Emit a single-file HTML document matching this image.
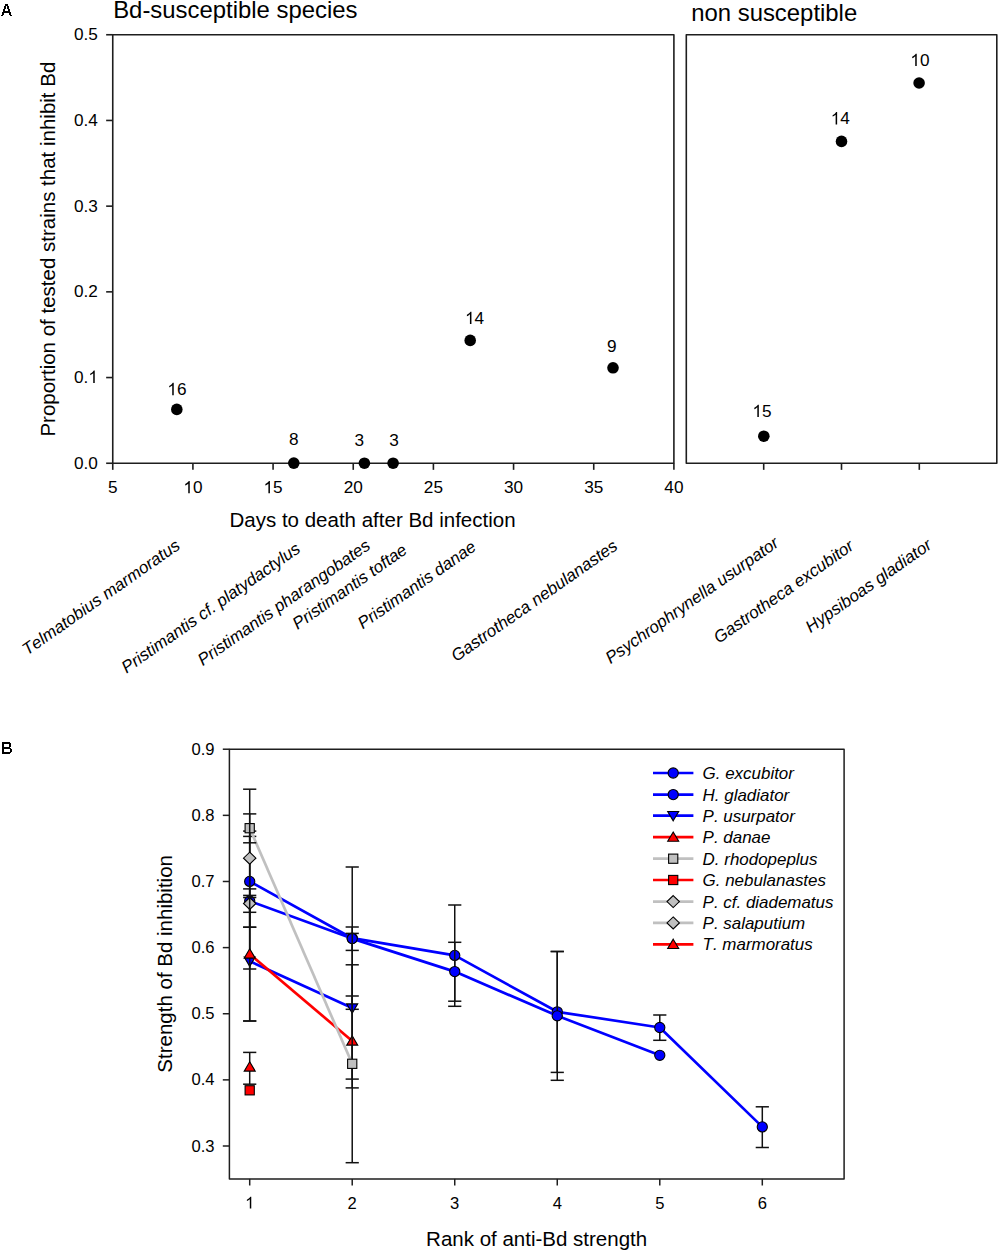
<!DOCTYPE html>
<html><head><meta charset="utf-8"><style>
html,body{margin:0;padding:0;background:#fff;}
svg{display:block;}
text{font-family:"Liberation Sans", sans-serif;fill:#000;font-kerning:none;}
.tk{font-size:17.2px;}
.tk2{font-size:16.6px;}
.ttl{font-size:23.9px;}
.lab{font-size:20.5px;}
.sp{font-size:17px;font-style:italic;}
.lg{font-size:16.95px;font-style:italic;}
.pl{font-size:16px;font-weight:bold;}
</style></head><body>
<svg width="1000" height="1253" viewBox="0 0 1000 1253">
<rect width="1000" height="1253" fill="#fff"/>
<rect x="112.75" y="34.75" width="561.15" height="428.5" fill="none" stroke="#1e1e1e" stroke-width="1.6" stroke-linejoin="round"/>
<line x1="106.15" y1="463.25" x2="112.75" y2="463.25" stroke="#1e1e1e" stroke-width="1.6"/>
<text x="73.99 83.56 88.33" y="468.65" style="font-size:17.2px">0.0</text>
<line x1="106.15" y1="377.55" x2="112.75" y2="377.55" stroke="#1e1e1e" stroke-width="1.6"/>
<text x="73.99 83.56" y="382.95" style="font-size:17.2px">0.</text><path d="M763 0H583V1147Q518 1085 412.5 1023Q307 961 223 930V1104Q374 1175 487 1276Q600 1377 647 1472H763Z" transform="translate(88.33,382.95) scale(0.00840,-0.00840)" fill="#000"/>
<line x1="106.15" y1="291.85" x2="112.75" y2="291.85" stroke="#1e1e1e" stroke-width="1.6"/>
<text x="73.99 83.56 88.33" y="297.25" style="font-size:17.2px">0.2</text>
<line x1="106.15" y1="206.14999999999998" x2="112.75" y2="206.14999999999998" stroke="#1e1e1e" stroke-width="1.6"/>
<text x="73.99 83.56 88.33" y="211.55" style="font-size:17.2px">0.3</text>
<line x1="106.15" y1="120.44999999999999" x2="112.75" y2="120.44999999999999" stroke="#1e1e1e" stroke-width="1.6"/>
<text x="73.99 83.56 88.33" y="125.85" style="font-size:17.2px">0.4</text>
<line x1="106.15" y1="34.75" x2="112.75" y2="34.75" stroke="#1e1e1e" stroke-width="1.6"/>
<text x="73.99 83.56 88.33" y="40.15" style="font-size:17.2px">0.5</text>
<line x1="112.75" y1="463.25" x2="112.75" y2="469.85" stroke="#1e1e1e" stroke-width="1.6"/>
<text x="107.97" y="493.30" style="font-size:17.2px">5</text>
<line x1="192.9142857142857" y1="463.25" x2="192.9142857142857" y2="469.85" stroke="#1e1e1e" stroke-width="1.6"/>
<text x="192.91" y="493.30" style="font-size:17.2px">0</text><path d="M763 0H583V1147Q518 1085 412.5 1023Q307 961 223 930V1104Q374 1175 487 1276Q600 1377 647 1472H763Z" transform="translate(183.35,493.30) scale(0.00840,-0.00840)" fill="#000"/>
<line x1="273.0785714285714" y1="463.25" x2="273.0785714285714" y2="469.85" stroke="#1e1e1e" stroke-width="1.6"/>
<text x="273.08" y="493.30" style="font-size:17.2px">5</text><path d="M763 0H583V1147Q518 1085 412.5 1023Q307 961 223 930V1104Q374 1175 487 1276Q600 1377 647 1472H763Z" transform="translate(263.51,493.30) scale(0.00840,-0.00840)" fill="#000"/>
<line x1="353.24285714285713" y1="463.25" x2="353.24285714285713" y2="469.85" stroke="#1e1e1e" stroke-width="1.6"/>
<text x="343.68 353.24" y="493.30" style="font-size:17.2px">20</text>
<line x1="433.40714285714284" y1="463.25" x2="433.40714285714284" y2="469.85" stroke="#1e1e1e" stroke-width="1.6"/>
<text x="423.84 433.41" y="493.30" style="font-size:17.2px">25</text>
<line x1="513.5714285714286" y1="463.25" x2="513.5714285714286" y2="469.85" stroke="#1e1e1e" stroke-width="1.6"/>
<text x="504.01 513.57" y="493.30" style="font-size:17.2px">30</text>
<line x1="593.7357142857143" y1="463.25" x2="593.7357142857143" y2="469.85" stroke="#1e1e1e" stroke-width="1.6"/>
<text x="584.17 593.74" y="493.30" style="font-size:17.2px">35</text>
<line x1="673.9" y1="463.25" x2="673.9" y2="469.85" stroke="#1e1e1e" stroke-width="1.6"/>
<text x="664.33 673.90" y="493.30" style="font-size:17.2px">40</text>
<rect x="686.3" y="34.75" width="310.5" height="428.5" fill="none" stroke="#1e1e1e" stroke-width="1.6" stroke-linejoin="round"/>
<line x1="763.7" y1="463.25" x2="763.7" y2="469.85" stroke="#1e1e1e" stroke-width="1.6"/>
<line x1="841.5" y1="463.25" x2="841.5" y2="469.85" stroke="#1e1e1e" stroke-width="1.6"/>
<line x1="919.3" y1="463.25" x2="919.3" y2="469.85" stroke="#1e1e1e" stroke-width="1.6"/>
<circle cx="176.8" cy="409.4" r="5.8" fill="#000"/>
<text x="176.90" y="395.20" style="font-size:17.2px">6</text><path d="M763 0H583V1147Q518 1085 412.5 1023Q307 961 223 930V1104Q374 1175 487 1276Q600 1377 647 1472H763Z" transform="translate(167.33,395.20) scale(0.00840,-0.00840)" fill="#000"/>
<circle cx="293.8" cy="463.1" r="5.8" fill="#000"/>
<text x="289.12" y="444.80" style="font-size:17.2px">8</text>
<circle cx="364.4" cy="463.2" r="5.8" fill="#000"/>
<text x="354.42" y="445.90" style="font-size:17.2px">3</text>
<circle cx="393.1" cy="463.2" r="5.8" fill="#000"/>
<text x="389.32" y="445.90" style="font-size:17.2px">3</text>
<circle cx="470.2" cy="340.4" r="5.8" fill="#000"/>
<text x="474.60" y="324.00" style="font-size:17.2px">4</text><path d="M763 0H583V1147Q518 1085 412.5 1023Q307 961 223 930V1104Q374 1175 487 1276Q600 1377 647 1472H763Z" transform="translate(465.03,324.00) scale(0.00840,-0.00840)" fill="#000"/>
<circle cx="613.0" cy="367.8" r="5.8" fill="#000"/>
<text x="607.12" y="351.80" style="font-size:17.2px">9</text>
<circle cx="763.8" cy="436.2" r="5.8" fill="#000"/>
<text x="762.00" y="417.00" style="font-size:17.2px">5</text><path d="M763 0H583V1147Q518 1085 412.5 1023Q307 961 223 930V1104Q374 1175 487 1276Q600 1377 647 1472H763Z" transform="translate(752.43,417.00) scale(0.00840,-0.00840)" fill="#000"/>
<circle cx="841.5" cy="141.4" r="5.8" fill="#000"/>
<text x="840.30" y="124.40" style="font-size:17.2px">4</text><path d="M763 0H583V1147Q518 1085 412.5 1023Q307 961 223 930V1104Q374 1175 487 1276Q600 1377 647 1472H763Z" transform="translate(830.73,124.40) scale(0.00840,-0.00840)" fill="#000"/>
<circle cx="919.1" cy="83.0" r="5.8" fill="#000"/>
<text x="919.90" y="66.00" style="font-size:17.2px">0</text><path d="M763 0H583V1147Q518 1085 412.5 1023Q307 961 223 930V1104Q374 1175 487 1276Q600 1377 647 1472H763Z" transform="translate(910.33,66.00) scale(0.00840,-0.00840)" fill="#000"/>
<text x="113.2" y="18.4" class="ttl">Bd-susceptible species</text>
<text x="691.2" y="21.0" class="ttl">non susceptible</text>
<text x="0" y="0" class="lab" transform="translate(55.3,436.6) rotate(-90)">Proportion of tested strains that inhibit Bd</text>
<text x="229.5" y="526.7" class="lab">Days to death after Bd infection</text>
<text x="0" y="0" text-anchor="end" class="sp" transform="translate(181.2,548) rotate(-35)">Telmatobius marmoratus</text>
<text x="0" y="0" text-anchor="end" class="sp" transform="translate(301.5,551.3) rotate(-35)">Pristimantis cf. platydactylus</text>
<text x="0" y="0" text-anchor="end" class="sp" transform="translate(371.5,548) rotate(-35)">Pristimantis pharangobates</text>
<text x="0" y="0" text-anchor="end" class="sp" transform="translate(408.3,552.5) rotate(-35)">Pristimantis toftae</text>
<text x="0" y="0" text-anchor="end" class="sp" transform="translate(477.2,549.4) rotate(-35)">Pristimantis danae</text>
<text x="0" y="0" text-anchor="end" class="sp" transform="translate(618.8,548.5) rotate(-35)">Gastrotheca nebulanastes</text>
<text x="0" y="0" text-anchor="end" class="sp" transform="translate(780,545.5) rotate(-35)">Psychrophrynella usurpator</text>
<text x="0" y="0" text-anchor="end" class="sp" transform="translate(855,548.5) rotate(-35)">Gastrotheca excubitor</text>
<text x="0" y="0" text-anchor="end" class="sp" transform="translate(932.8,547.5) rotate(-35)">Hypsiboas gladiator</text>
<path d="M5 4h3v1h-3zM5 5h3v1h-3zM4 6h2v1h-2zM7 6h2v1h-2zM4 7h2v1h-2zM7 7h2v1h-2zM4 8h2v1h-2zM7 8h2v1h-2zM3 9h2v1h-2zM8 9h2v1h-2zM3 10h2v1h-2zM8 10h2v1h-2zM3 11h7v1h-7zM2 12h9v1h-9zM2 13h2v1h-2zM9 13h2v1h-2zM2 14h2v1h-2zM9 14h2v1h-2zM1 15h2v1h-2zM10 15h2v1h-2z" fill="#000" shape-rendering="crispEdges"/>
<path d="M2 742h8v1h-8zM2 743h9v1h-9zM2 744h2v1h-2zM9 744h2v1h-2zM2 745h2v1h-2zM9 745h2v1h-2zM2 746h2v1h-2zM9 746h2v1h-2zM2 747h8v1h-8zM2 748h9v1h-9zM2 749h2v1h-2zM10 749h2v1h-2zM2 750h2v1h-2zM10 750h2v1h-2zM2 751h2v1h-2zM10 751h2v1h-2zM2 752h9v1h-9zM2 753h8v1h-8z" fill="#000" shape-rendering="crispEdges"/>
<rect x="229.4" y="749.2" width="614.7" height="429.70000000000005" fill="none" stroke="#1e1e1e" stroke-width="1.5" stroke-linejoin="round"/>
<line x1="222.8" y1="1146.0" x2="229.4" y2="1146.0" stroke="#1e1e1e" stroke-width="1.5"/>
<text x="191.42 200.66 205.27" y="1151.60" style="font-size:16.6px">0.3</text>
<line x1="222.8" y1="1079.87" x2="229.4" y2="1079.87" stroke="#1e1e1e" stroke-width="1.5"/>
<text x="191.42 200.66 205.27" y="1085.47" style="font-size:16.6px">0.4</text>
<line x1="222.8" y1="1013.74" x2="229.4" y2="1013.74" stroke="#1e1e1e" stroke-width="1.5"/>
<text x="191.42 200.66 205.27" y="1019.34" style="font-size:16.6px">0.5</text>
<line x1="222.8" y1="947.6099999999999" x2="229.4" y2="947.6099999999999" stroke="#1e1e1e" stroke-width="1.5"/>
<text x="191.42 200.66 205.27" y="953.21" style="font-size:16.6px">0.6</text>
<line x1="222.8" y1="881.48" x2="229.4" y2="881.48" stroke="#1e1e1e" stroke-width="1.5"/>
<text x="191.42 200.66 205.27" y="887.08" style="font-size:16.6px">0.7</text>
<line x1="222.8" y1="815.35" x2="229.4" y2="815.35" stroke="#1e1e1e" stroke-width="1.5"/>
<text x="191.42 200.66 205.27" y="820.95" style="font-size:16.6px">0.8</text>
<line x1="222.8" y1="749.22" x2="229.4" y2="749.22" stroke="#1e1e1e" stroke-width="1.5"/>
<text x="191.42 200.66 205.27" y="754.82" style="font-size:16.6px">0.9</text>
<line x1="249.7" y1="1178.9" x2="249.7" y2="1185.5" stroke="#1e1e1e" stroke-width="1.5"/>
<path d="M763 0H583V1147Q518 1085 412.5 1023Q307 961 223 930V1104Q374 1175 487 1276Q600 1377 647 1472H763Z" transform="translate(245.08,1208.60) scale(0.00811,-0.00811)" fill="#000"/>
<line x1="352.21999999999997" y1="1178.9" x2="352.21999999999997" y2="1185.5" stroke="#1e1e1e" stroke-width="1.5"/>
<text x="347.60" y="1208.60" style="font-size:16.6px">2</text>
<line x1="454.74" y1="1178.9" x2="454.74" y2="1185.5" stroke="#1e1e1e" stroke-width="1.5"/>
<text x="450.12" y="1208.60" style="font-size:16.6px">3</text>
<line x1="557.26" y1="1178.9" x2="557.26" y2="1185.5" stroke="#1e1e1e" stroke-width="1.5"/>
<text x="552.64" y="1208.60" style="font-size:16.6px">4</text>
<line x1="659.78" y1="1178.9" x2="659.78" y2="1185.5" stroke="#1e1e1e" stroke-width="1.5"/>
<text x="655.16" y="1208.60" style="font-size:16.6px">5</text>
<line x1="762.3" y1="1178.9" x2="762.3" y2="1185.5" stroke="#1e1e1e" stroke-width="1.5"/>
<text x="757.68" y="1208.60" style="font-size:16.6px">6</text>
<text x="0" y="0" class="lab" transform="translate(172,1072.7) rotate(-90)">Strength of Bd inhibition</text>
<text x="426.1" y="1246" class="lab">Rank of anti-Bd strength</text>
<polyline points="249.70,881.40 352.22,938.20 454.74,955.40 557.26,1011.80 659.78,1027.50 762.30,1126.90" fill="none" stroke="#0000ff" stroke-width="2.7" stroke-linejoin="round"/>
<g stroke="#111" stroke-width="1.5"><line x1="249.70" y1="836.4" x2="249.70" y2="927.2"/><line x1="243.10" y1="836.4" x2="256.30" y2="836.4"/><line x1="243.10" y1="927.2" x2="256.30" y2="927.2"/><line x1="352.22" y1="867.0" x2="352.22" y2="1009.3"/><line x1="345.62" y1="867.0" x2="358.82" y2="867.0"/><line x1="345.62" y1="1009.3" x2="358.82" y2="1009.3"/><line x1="454.74" y1="905.0" x2="454.74" y2="1006.3"/><line x1="448.14" y1="905.0" x2="461.34" y2="905.0"/><line x1="448.14" y1="1006.3" x2="461.34" y2="1006.3"/><line x1="557.26" y1="951.5" x2="557.26" y2="1072.4"/><line x1="550.66" y1="951.5" x2="563.86" y2="951.5"/><line x1="550.66" y1="1072.4" x2="563.86" y2="1072.4"/><line x1="659.78" y1="1015.0" x2="659.78" y2="1040.3"/><line x1="653.18" y1="1015.0" x2="666.38" y2="1015.0"/><line x1="653.18" y1="1040.3" x2="666.38" y2="1040.3"/><line x1="762.30" y1="1106.8" x2="762.30" y2="1147.5"/><line x1="755.70" y1="1106.8" x2="768.90" y2="1106.8"/><line x1="755.70" y1="1147.5" x2="768.90" y2="1147.5"/></g>
<circle cx="249.70" cy="881.40" r="5.1" fill="#0000ff" stroke="#000" stroke-width="1.1"/>
<circle cx="352.22" cy="938.20" r="5.1" fill="#0000ff" stroke="#000" stroke-width="1.1"/>
<circle cx="454.74" cy="955.40" r="5.1" fill="#0000ff" stroke="#000" stroke-width="1.1"/>
<circle cx="557.26" cy="1011.80" r="5.1" fill="#0000ff" stroke="#000" stroke-width="1.1"/>
<circle cx="659.78" cy="1027.50" r="5.1" fill="#0000ff" stroke="#000" stroke-width="1.1"/>
<circle cx="762.30" cy="1126.90" r="5.1" fill="#0000ff" stroke="#000" stroke-width="1.1"/>
<polyline points="249.70,901.00 352.22,938.60 454.74,971.60 557.26,1015.80 659.78,1055.30" fill="none" stroke="#0000ff" stroke-width="2.7" stroke-linejoin="round"/>
<g stroke="#111" stroke-width="1.5"><line x1="249.70" y1="831.1" x2="249.70" y2="969.0"/><line x1="243.10" y1="831.1" x2="256.30" y2="831.1"/><line x1="243.10" y1="969.0" x2="256.30" y2="969.0"/><line x1="352.22" y1="927.0" x2="352.22" y2="950.4"/><line x1="345.62" y1="927.0" x2="358.82" y2="927.0"/><line x1="345.62" y1="950.4" x2="358.82" y2="950.4"/><line x1="454.74" y1="942.3" x2="454.74" y2="1001.2"/><line x1="448.14" y1="942.3" x2="461.34" y2="942.3"/><line x1="448.14" y1="1001.2" x2="461.34" y2="1001.2"/><line x1="557.26" y1="951.5" x2="557.26" y2="1080.3"/><line x1="550.66" y1="951.5" x2="563.86" y2="951.5"/><line x1="550.66" y1="1080.3" x2="563.86" y2="1080.3"/></g>
<circle cx="249.70" cy="901.00" r="5.1" fill="#0000ff" stroke="#000" stroke-width="1.1"/>
<circle cx="352.22" cy="938.60" r="5.1" fill="#0000ff" stroke="#000" stroke-width="1.1"/>
<circle cx="454.74" cy="971.60" r="5.1" fill="#0000ff" stroke="#000" stroke-width="1.1"/>
<circle cx="557.26" cy="1015.80" r="5.1" fill="#0000ff" stroke="#000" stroke-width="1.1"/>
<circle cx="659.78" cy="1055.30" r="5.1" fill="#0000ff" stroke="#000" stroke-width="1.1"/>
<polyline points="249.70,961.20 352.22,1008.00" fill="none" stroke="#0000ff" stroke-width="2.7" stroke-linejoin="round"/>
<g stroke="#111" stroke-width="1.5"><line x1="249.70" y1="897.5" x2="249.70" y2="1021.0"/><line x1="243.10" y1="897.5" x2="256.30" y2="897.5"/><line x1="243.10" y1="1021.0" x2="256.30" y2="1021.0"/><line x1="352.22" y1="933.4" x2="352.22" y2="1079.1"/><line x1="345.62" y1="933.4" x2="358.82" y2="933.4"/><line x1="345.62" y1="1079.1" x2="358.82" y2="1079.1"/></g>
<polygon points="249.70,966.40 255.20,957.10 244.20,957.10" fill="#0000ff" stroke="#000" stroke-width="1.1"/>
<polygon points="352.22,1013.20 357.72,1003.90 346.72,1003.90" fill="#0000ff" stroke="#000" stroke-width="1.1"/>
<polyline points="249.70,954.00 352.22,1041.00" fill="none" stroke="#ff0000" stroke-width="2.7" stroke-linejoin="round"/>
<g stroke="#111" stroke-width="1.5"><line x1="249.70" y1="888.9" x2="249.70" y2="1021.0"/><line x1="243.10" y1="888.9" x2="256.30" y2="888.9"/><line x1="243.10" y1="1021.0" x2="256.30" y2="1021.0"/><line x1="352.22" y1="996.0" x2="352.22" y2="1087.9"/><line x1="345.62" y1="996.0" x2="358.82" y2="996.0"/><line x1="345.62" y1="1087.9" x2="358.82" y2="1087.9"/></g>
<polygon points="249.70,948.80 255.20,958.10 244.20,958.10" fill="#ff0000" stroke="#000" stroke-width="1.1"/>
<polygon points="352.22,1035.80 357.72,1045.10 346.72,1045.10" fill="#ff0000" stroke="#000" stroke-width="1.1"/>
<polyline points="249.70,828.20 352.22,1063.80" fill="none" stroke="#c0c0c0" stroke-width="2.7" stroke-linejoin="round"/>
<g stroke="#111" stroke-width="1.5"><line x1="249.70" y1="813.9" x2="249.70" y2="842.8"/><line x1="243.10" y1="813.9" x2="256.30" y2="813.9"/><line x1="243.10" y1="842.8" x2="256.30" y2="842.8"/><line x1="352.22" y1="964.8" x2="352.22" y2="1162.7"/><line x1="345.62" y1="964.8" x2="358.82" y2="964.8"/><line x1="345.62" y1="1162.7" x2="358.82" y2="1162.7"/></g>
<rect x="245.10" y="823.60" width="9.2" height="9.2" fill="#c0c0c0" stroke="#000" stroke-width="1.1"/>
<rect x="347.62" y="1059.20" width="9.2" height="9.2" fill="#c0c0c0" stroke="#000" stroke-width="1.1"/>
<rect x="245.10" y="1085.70" width="9.2" height="9.2" fill="#ff0000" stroke="#000" stroke-width="1.1"/>
<g stroke="#111" stroke-width="1.5"><line x1="249.70" y1="895.4" x2="249.70" y2="912.3"/><line x1="243.10" y1="895.4" x2="256.30" y2="895.4"/><line x1="243.10" y1="912.3" x2="256.30" y2="912.3"/></g>
<polygon points="249.70,897.50 255.90,903.50 249.70,909.50 243.50,903.50" fill="#c0c0c0" stroke="#000" stroke-width="1.1"/>
<g stroke="#111" stroke-width="1.5"><line x1="249.70" y1="789.2" x2="249.70" y2="927.2"/><line x1="243.10" y1="789.2" x2="256.30" y2="789.2"/><line x1="243.10" y1="927.2" x2="256.30" y2="927.2"/></g>
<polygon points="249.70,852.20 255.90,858.20 249.70,864.20 243.50,858.20" fill="#c0c0c0" stroke="#000" stroke-width="1.1"/>
<g stroke="#111" stroke-width="1.5"><line x1="249.70" y1="1052.4" x2="249.70" y2="1084.2"/><line x1="243.10" y1="1052.4" x2="256.30" y2="1052.4"/><line x1="243.10" y1="1084.2" x2="256.30" y2="1084.2"/></g>
<polygon points="249.70,1061.80 255.20,1071.10 244.20,1071.10" fill="#ff0000" stroke="#000" stroke-width="1.1"/>
<line x1="653" y1="773" x2="693.4" y2="773" stroke="#0000ff" stroke-width="2.7"/>
<circle cx="673.20" cy="773.00" r="5.1" fill="#0000ff" stroke="#000" stroke-width="1.1"/>
<text x="702.6" y="779" class="lg">G. excubitor</text>
<line x1="653" y1="794.6" x2="693.4" y2="794.6" stroke="#0000ff" stroke-width="2.7"/>
<circle cx="673.20" cy="794.60" r="5.1" fill="#0000ff" stroke="#000" stroke-width="1.1"/>
<text x="702.6" y="800.6" class="lg">H. gladiator</text>
<line x1="653" y1="815.6" x2="693.4" y2="815.6" stroke="#0000ff" stroke-width="2.7"/>
<polygon points="673.20,820.80 678.70,811.50 667.70,811.50" fill="#0000ff" stroke="#000" stroke-width="1.1"/>
<text x="702.6" y="821.6" class="lg">P. usurpator</text>
<line x1="653" y1="837.2" x2="693.4" y2="837.2" stroke="#ff0000" stroke-width="2.7"/>
<polygon points="673.20,832.00 678.70,841.30 667.70,841.30" fill="#ff0000" stroke="#000" stroke-width="1.1"/>
<text x="702.6" y="843.2" class="lg">P. danae</text>
<line x1="653" y1="858.7" x2="693.4" y2="858.7" stroke="#c0c0c0" stroke-width="2.7"/>
<rect x="668.60" y="854.10" width="9.2" height="9.2" fill="#c0c0c0" stroke="#000" stroke-width="1.1"/>
<text x="702.6" y="864.7" class="lg">D. rhodopeplus</text>
<line x1="653" y1="880" x2="693.4" y2="880" stroke="#ff0000" stroke-width="2.7"/>
<rect x="668.60" y="875.40" width="9.2" height="9.2" fill="#ff0000" stroke="#000" stroke-width="1.1"/>
<text x="702.6" y="886" class="lg">G. nebulanastes</text>
<line x1="653" y1="901.6" x2="693.4" y2="901.6" stroke="#c0c0c0" stroke-width="2.7"/>
<polygon points="673.20,895.60 679.40,901.60 673.20,907.60 667.00,901.60" fill="#c0c0c0" stroke="#000" stroke-width="1.1"/>
<text x="702.6" y="907.6" class="lg">P. cf. diadematus</text>
<line x1="653" y1="922.9" x2="693.4" y2="922.9" stroke="#c0c0c0" stroke-width="2.7"/>
<polygon points="673.20,916.90 679.40,922.90 673.20,928.90 667.00,922.90" fill="#c0c0c0" stroke="#000" stroke-width="1.1"/>
<text x="702.6" y="928.9" class="lg">P. salaputium</text>
<line x1="653" y1="944.4" x2="693.4" y2="944.4" stroke="#ff0000" stroke-width="2.7"/>
<polygon points="673.20,939.20 678.70,948.50 667.70,948.50" fill="#ff0000" stroke="#000" stroke-width="1.1"/>
<text x="702.6" y="950.4" class="lg">T. marmoratus</text>
</svg>
</body></html>
